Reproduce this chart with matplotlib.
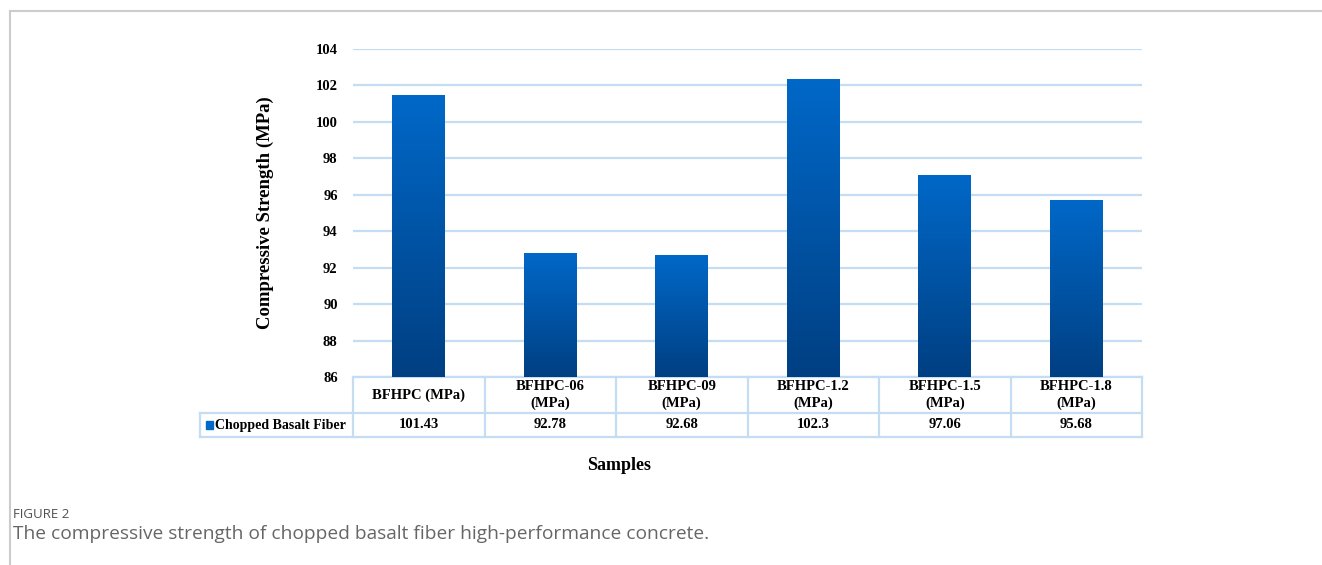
import numpy as np
import matplotlib.pyplot as plt
from matplotlib.colors import LinearSegmentedColormap
from matplotlib.lines import Line2D

samples = ["BFHPC (MPa)", "BFHPC-06\n(MPa)", "BFHPC-09\n(MPa)",
           "BFHPC-1.2\n(MPa)", "BFHPC-1.5\n(MPa)", "BFHPC-1.8\n(MPa)"]
strength = [101.43, 92.78, 92.68, 102.3, 97.06, 95.68]
value_labels = ["101.43", "92.78", "92.68", "102.3", "97.06", "95.68"]
series_name = "Chopped Basalt Fiber"
y_ticks = [86, 88, 90, 92, 94, 96, 98, 100, 102, 104]

serif = "Liberation Serif"
grid_color = "#c4ddf2"
bar_top = "#0068c8"
bar_bottom = "#003f82"

fig = plt.figure(figsize=(13.22, 5.65), dpi=100)
ax = fig.add_axes([353 / 1322, 1 - 377 / 565, 789 / 1322, 328 / 565])

x = np.arange(len(samples))
bars = ax.bar(x, np.array(strength) - 86, width=0.4, bottom=86, color="none", zorder=3)

# vertical gradient fill for each bar
cmap = LinearSegmentedColormap.from_list("bar", [bar_bottom, bar_top])
grad = np.linspace(0, 1, 256).reshape(-1, 1)
for b in bars:
    x0, y0 = b.get_x(), b.get_y()
    ax.imshow(grad, cmap=cmap, origin="lower", aspect="auto", zorder=3,
              extent=[x0, x0 + b.get_width(), y0, y0 + b.get_height()])

ax.set_xlim(-0.5, len(samples) - 0.5)
ax.set_ylim(86, 104)
ax.set_yticks(y_ticks)
ax.set_yticklabels([str(t) for t in y_ticks], fontfamily=serif,
                   fontweight="bold", fontsize=10.5)
ax.tick_params(axis="y", length=0, pad=11)
ax.set_xticks([])
ax.yaxis.grid(True, color=grid_color, linewidth=1.6, zorder=0)
ax.set_axisbelow(True)
for s in ax.spines.values():
    s.set_visible(False)

ax.set_ylabel("Compressive Strength (MPa)", fontfamily=serif,
              fontweight="bold", fontsize=13.5, labelpad=30)

# data table under the axis
n = len(samples)
trans = ax.transAxes
row1 = -36 / 328
row2 = -60 / 328
left = -153 / 789
kw = dict(transform=trans, color=grid_color, linewidth=1.6, clip_on=False)
ax.add_line(Line2D([0, 1], [0, 0], **kw))
ax.add_line(Line2D([left, 1], [row1, row1], **kw))
ax.add_line(Line2D([left, 1], [row2, row2], **kw))
for k in range(n + 1):
    ax.add_line(Line2D([k / n, k / n], [0, row2], **kw))
ax.add_line(Line2D([left, left], [row1, row2], **kw))

txt = dict(transform=trans, fontfamily=serif, fontweight="bold", fontsize=10.5,
           ha="center", va="center", linespacing=1.25)
for k in range(n):
    cx = (k + 0.5) / n
    ax.text(cx, row1 / 2, samples[k], **txt)
    ax.text(cx, (row1 + row2) / 2, value_labels[k], **txt)

ax.add_patch(plt.Rectangle((-147 / 789, (row1 + row2) / 2 - 4 / 328), 7 / 789, 8 / 328,
                           transform=trans, color=bar_top, clip_on=False))
ax.text(-138 / 789, (row1 + row2) / 2, series_name, transform=trans,
        fontfamily=serif, fontweight="bold", fontsize=10, ha="left", va="center")

fig.text(619 / 1322, 1 - 465 / 565, "Samples", fontfamily=serif,
         fontweight="bold", fontsize=13, ha="center", va="center")

# caption and frame
fig.text(13 / 1322, 1 - 515 / 565, "FIGURE 2", fontfamily="Open Sans",
         fontsize=9.5, fontweight="medium", color="#505050", va="center")
fig.text(13 / 1322, 1 - 534 / 565,
         "The compressive strength of chopped basalt fiber high-performance concrete.",
         fontfamily="Open Sans", fontsize=13.75, color="#666666", va="center")
fig.add_artist(Line2D([10 / 1322, 1], [1 - 11 / 565] * 2, transform=fig.transFigure,
                      color="#cccccc", linewidth=1.5))
fig.add_artist(Line2D([10 / 1322] * 2, [0, 1 - 11 / 565], transform=fig.transFigure,
                      color="#cccccc", linewidth=1.5))

fig.savefig("out.png", dpi=100)
